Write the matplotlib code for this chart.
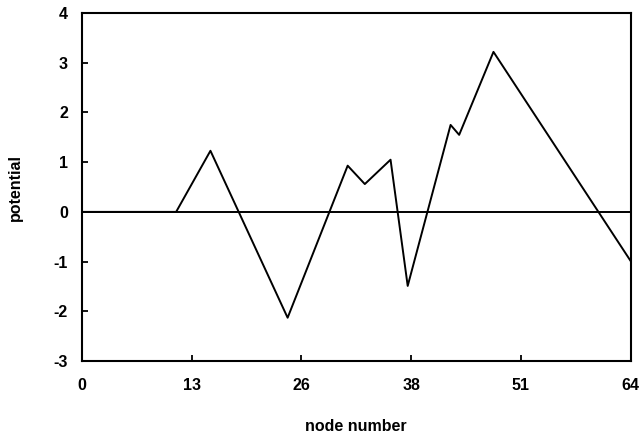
import matplotlib
matplotlib.use("Agg")
import matplotlib.pyplot as plt

# 노드 번호와 전위 값
node = [0, 11, 15, 24, 31, 33, 36, 38, 43, 44, 48, 64]
potential = [0.0, 0.0, 1.23, -2.13, 0.93, 0.56, 1.05, -1.49, 1.75, 1.55, 3.22, -0.99]

xtick_pos = [0, 12.8, 25.6, 38.4, 51.2, 64]
xtick_labels = ["0", "13", "26", "38", "51", "64"]
ytick_pos = [-3, -2, -1, 0, 1, 2, 3, 4]

plt.rcParams['font.family'] = ['Liberation Sans', 'DejaVu Sans']
plt.rcParams['axes.unicode_minus'] = False

fig = plt.figure(figsize=(6.39, 4.37), dpi=100)
ax = fig.add_axes([0.128, 0.174, 0.859, 0.796])

ax.axhline(0, color="black", linewidth=1.4)
ax.plot(node, potential, color="black", linewidth=1.4)

ax.set_xlim(0, 64)
ax.set_ylim(-3, 4)
ax.set_xticks(xtick_pos)
ax.set_xticklabels(xtick_labels)
ax.set_yticks(ytick_pos)
ax.tick_params(direction="in", length=4, width=1.3, labelsize=11.5)
ax.tick_params(axis="x", pad=12)
ax.tick_params(axis="y", pad=10)
for lab in ax.get_xticklabels() + ax.get_yticklabels():
    lab.set_fontweight("bold")
for s in ax.spines.values():
    s.set_linewidth(1.5)

ax.set_xlabel("node number", fontsize=11.5, fontweight="bold", labelpad=19)
ax.set_ylabel("potential", fontsize=11.5, fontweight="bold", labelpad=22)

fig.savefig("out.png", dpi=100)
